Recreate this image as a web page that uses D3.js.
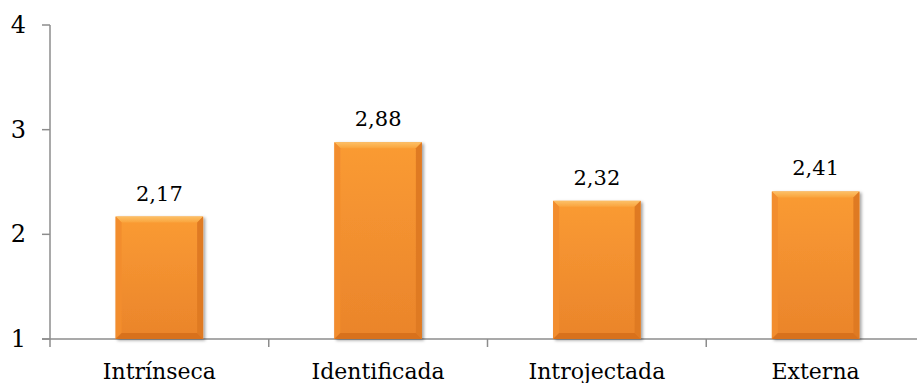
<!DOCTYPE html>
<html><head><meta charset="utf-8">
<script src="https://cdn.jsdelivr.net/npm/d3@7"></script>
<style>body{margin:0;background:#fff}svg{display:block}</style>
</head><body><svg id="c" width="917" height="383"></svg>
<script>
const categories = ["Intrínseca","Identificada","Introjectada","Externa"];
const values = [2.17, 2.88, 2.32, 2.41];
const valueLabels = ["2,17","2,88","2,32","2,41"];
const yTicks = [1,2,3,4];

const FONT = "'DejaVu Serif', 'Liberation Serif', serif";
const svg = d3.select("#c");
const x0 = 50, x1 = 925, yBottom = 339, yTop = 25;
const x = d3.scaleBand().domain(categories).range([x0, x1]).paddingInner(0.6).paddingOuter(0.3);
const xb = d3.scaleBand().domain(categories).range([x0, x1]);
const y = d3.scaleLinear().domain([1,4]).range([yBottom, yTop]);

const defs = svg.append("defs");
const g = defs.append("linearGradient").attr("id","fill").attr("x1",0).attr("y1",0).attr("x2",0).attr("y2",1);
g.append("stop").attr("offset","0%").attr("stop-color","#FA9B33");
g.append("stop").attr("offset","100%").attr("stop-color","#EA842B");
const gt = defs.append("linearGradient").attr("id","top").attr("x1",0).attr("y1",0).attr("x2",0).attr("y2",1);
gt.append("stop").attr("offset","0%").attr("stop-color","#FCC067");
gt.append("stop").attr("offset","100%").attr("stop-color","#FAA43C");
const f = defs.append("filter").attr("id","sh").attr("x","-10%").attr("y","-10%").attr("width","130%").attr("height","130%");
f.append("feDropShadow").attr("dx",2).attr("dy",1.5).attr("stdDeviation",1.5).attr("flood-color","#000").attr("flood-opacity",0.35);

const axis = svg.append("g").attr("stroke","#8c8c8c").attr("stroke-width",1.5).attr("fill","none");
axis.append("line").attr("x1",x0).attr("x2",x0).attr("y1",y(4)).attr("y2",yBottom+8);
axis.append("line").attr("x1",x0-8).attr("x2",917).attr("y1",yBottom).attr("y2",yBottom);
yTicks.forEach(t => axis.append("line").attr("x1",x0-8).attr("x2",x0).attr("y1",y(t)).attr("y2",y(t)));
categories.forEach(c => {
  const bx = xb(c) + xb.bandwidth();
  if (bx < 917) axis.append("line").attr("x1",bx).attr("x2",bx).attr("y1",yBottom).attr("y2",yBottom+8);
});

svg.append("g").selectAll("text").data(yTicks).join("text")
  .style("font-family", FONT).attr("fill","#000")
  .attr("x", 26).attr("y", d => y(d)+8).attr("text-anchor","end")
  .style("font-size","24px").text(d => d);

const bars = svg.append("g");
const bev = 6;
categories.forEach((c,i) => {
  const bl = x(c), br = x(c)+x.bandwidth(), bt = y(values[i]), bb = yBottom;
  const gg = bars.append("g").attr("filter","url(#sh)");
  gg.append("rect").attr("x",bl).attr("y",bt).attr("width",br-bl).attr("height",bb-bt).attr("fill","url(#fill)");
  const poly = (pts, fill) => gg.append("polygon").attr("points", pts.map(p=>p.join(",")).join(" ")).attr("fill",fill);
  poly([[bl,bt],[br,bt],[br-bev,bt+bev],[bl+bev,bt+bev]], "url(#top)");
  poly([[bl,bt],[bl+bev,bt+bev],[bl+bev,bb-bev],[bl,bb]], "#F28D2E");
  poly([[br,bt],[br-bev,bt+bev],[br-bev,bb-bev],[br,bb]], "#DF7A24");
  poly([[bl,bb],[bl+bev,bb-bev],[br-bev,bb-bev],[br,bb]], "#D8711F");
});

svg.append("g").selectAll("text").data(categories).join("text")
  .style("font-family", FONT).attr("fill","#000")
  .attr("x", (d) => x(d)+x.bandwidth()/2).attr("y", (d,i) => y(values[i]) - 16)
  .attr("text-anchor","middle").style("font-size","21px").text((d,i) => valueLabels[i]);

svg.append("g").selectAll("text").data(categories).join("text")
  .style("font-family", FONT).attr("fill","#000")
  .attr("x", d => x(d)+x.bandwidth()/2).attr("y", yBottom+40)
  .attr("text-anchor","middle").style("font-size","22px").text(d => d);
</script></body></html>
